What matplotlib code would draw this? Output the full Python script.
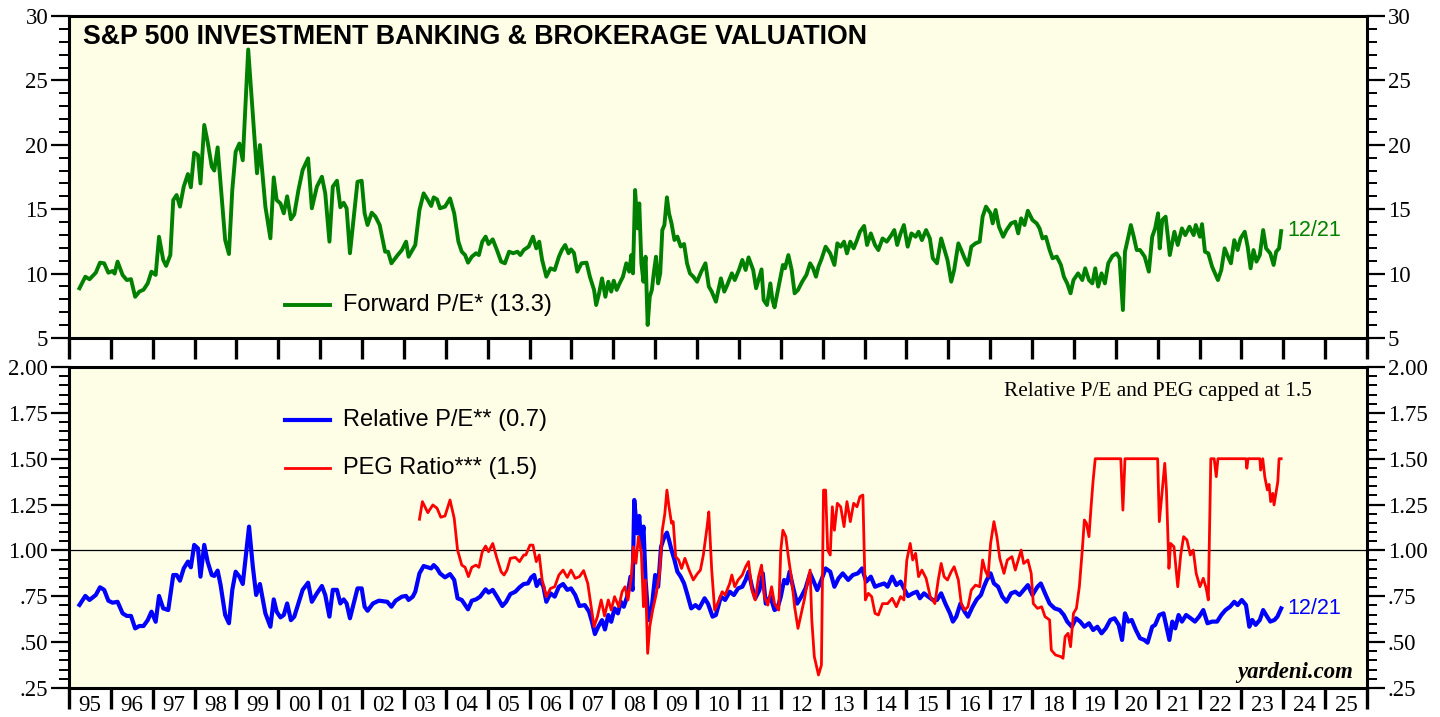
import matplotlib
matplotlib.use("Agg")
import matplotlib.pyplot as plt
from matplotlib.ticker import MultipleLocator, FixedLocator

# ---------------- data ----------------
pe_dates = [1995.25, 1995.39, 1995.49, 1995.64, 1995.74, 1995.84, 1995.94, 1996.04, 1996.09, 1996.16,
            1996.28, 1996.38, 1996.48, 1996.58, 1996.68, 1996.78, 1996.88, 1996.97, 1997.07, 1997.15,
            1997.25, 1997.32, 1997.42, 1997.49, 1997.57, 1997.65, 1997.74, 1997.84, 1997.91, 1997.99,
            1998.08, 1998.14, 1998.23, 1998.31, 1998.41, 1998.47, 1998.55, 1998.62, 1998.73, 1998.82,
            1998.90, 1998.98, 1999.07, 1999.15, 1999.28, 1999.49, 1999.56, 1999.69, 1999.81, 1999.89,
            1999.96, 2000.05, 2000.13, 2000.21, 2000.30, 2000.38, 2000.48, 2000.58, 2000.71, 2000.80,
            2000.92, 2001.04, 2001.12, 2001.22, 2001.30, 2001.40, 2001.48, 2001.56, 2001.63, 2001.71,
            2001.81, 2001.89, 2001.99, 2002.06, 2002.13, 2002.23, 2002.32, 2002.42, 2002.55, 2002.62,
            2002.70, 2002.85, 2002.95, 2003.05, 2003.11, 2003.21, 2003.27, 2003.37, 2003.47, 2003.57,
            2003.65, 2003.71, 2003.79, 2003.86, 2003.98, 2004.10, 2004.20, 2004.30, 2004.38, 2004.46,
            2004.53, 2004.62, 2004.72, 2004.79, 2004.87, 2004.95, 2005.02, 2005.12, 2005.22, 2005.32,
            2005.41, 2005.51, 2005.61, 2005.71, 2005.78, 2005.86, 2005.98, 2006.08, 2006.16, 2006.23,
            2006.30, 2006.40, 2006.50, 2006.60, 2006.70, 2006.77, 2006.85, 2006.93, 2006.99, 2007.06,
            2007.14, 2007.24, 2007.36, 2007.44, 2007.54, 2007.59, 2007.66, 2007.73, 2007.81, 2007.88,
            2007.95, 2008.01, 2008.08, 2008.15, 2008.23, 2008.31, 2008.38, 2008.43, 2008.47, 2008.52,
            2008.58, 2008.62, 2008.67, 2008.72, 2008.77, 2008.82, 2008.87, 2008.92, 2008.97, 2009.02,
            2009.07, 2009.12, 2009.17, 2009.22, 2009.28, 2009.33, 2009.39, 2009.46, 2009.53, 2009.61,
            2009.69, 2009.76, 2009.83, 2009.91, 2010.00, 2010.10, 2010.20, 2010.28, 2010.35, 2010.45,
            2010.57, 2010.65, 2010.72, 2010.83, 2010.90, 2011.00, 2011.08, 2011.16, 2011.23, 2011.34,
            2011.41, 2011.49, 2011.54, 2011.59, 2011.67, 2011.75, 2011.80, 2011.85, 2011.90, 2011.98,
            2012.05, 2012.10, 2012.18, 2012.26, 2012.33, 2012.41, 2012.51, 2012.61, 2012.70, 2012.77,
            2012.84, 2012.90, 2012.97, 2013.07, 2013.18, 2013.28, 2013.35, 2013.43, 2013.51, 2013.58,
            2013.66, 2013.74, 2013.82, 2013.89, 2013.99, 2014.06, 2014.15, 2014.25, 2014.33, 2014.43,
            2014.53, 2014.64, 2014.71, 2014.78, 2014.86, 2014.94, 2015.03, 2015.12, 2015.22, 2015.29,
            2015.37, 2015.47, 2015.56, 2015.63, 2015.73, 2015.83, 2015.90, 2015.98, 2016.07, 2016.14,
            2016.24, 2016.31, 2016.39, 2016.47, 2016.55, 2016.65, 2016.75, 2016.82, 2016.90, 2017.01,
            2017.06, 2017.13, 2017.21, 2017.31, 2017.39, 2017.50, 2017.60, 2017.67, 2017.74, 2017.82,
            2017.90, 2018.01, 2018.11, 2018.18, 2018.25, 2018.33, 2018.42, 2018.49, 2018.59, 2018.69,
            2018.76, 2018.84, 2018.92, 2018.99, 2019.10, 2019.20, 2019.27, 2019.36, 2019.44, 2019.51,
            2019.58, 2019.66, 2019.74, 2019.82, 2019.92, 2020.02, 2020.09, 2020.17, 2020.22, 2020.30,
            2020.36, 2020.43, 2020.50, 2020.58, 2020.69, 2020.79, 2020.87, 2020.94, 2021.01, 2021.05,
            2021.11, 2021.19, 2021.24, 2021.29, 2021.40, 2021.48, 2021.58, 2021.66, 2021.76, 2021.86,
            2021.91, 2022.01, 2022.06, 2022.13, 2022.21, 2022.30, 2022.37, 2022.44, 2022.52, 2022.60,
            2022.68, 2022.75, 2022.83, 2022.91, 2022.98, 2023.08, 2023.15, 2023.22, 2023.29, 2023.36,
            2023.44, 2023.52, 2023.59, 2023.69, 2023.77, 2023.83, 2023.90, 2023.95]
pe_values = [8.86, 9.76, 9.56, 10.07, 10.85, 10.8, 10.07, 10.2, 10.0, 10.93,
             9.89, 9.5, 9.57, 8.2, 8.6, 8.75, 9.24, 10.15, 9.9, 12.86,
             11.06, 10.6, 11.44, 15.71, 16.1, 15.2, 16.75, 17.73, 16.7, 19.39,
             19.2, 17.0, 21.54, 20.25, 18.3, 18.0, 19.8, 17.0, 12.6, 11.52,
             16.5, 19.46, 20.1, 18.8, 27.4, 17.79, 19.98, 15.2, 12.74, 17.47,
             15.71, 15.45, 14.68, 16.0, 14.22, 14.6, 16.49, 18.04, 18.95, 15.07,
             16.75, 17.52, 16.23, 12.48, 16.75, 17.21, 15.15, 15.5, 15.07, 11.58,
             14.68, 17.13, 17.21, 14.68, 13.77, 14.73, 14.42, 13.77, 11.7, 11.7,
             10.8, 11.44, 11.83, 12.48, 11.31, 11.88, 12.22, 14.94, 16.23, 15.71,
             15.25, 15.92, 15.76, 15.07, 15.2, 15.84, 14.68, 12.48, 11.7, 11.44,
             10.85, 11.31, 11.58, 11.44, 12.48, 12.87, 12.29, 12.66, 11.83, 10.93,
             10.8, 11.7, 11.58, 11.7, 11.44, 11.83, 12.1, 12.87, 11.96, 12.48,
             11.06, 9.76, 10.41, 10.28, 11.31, 11.83, 12.22, 11.58, 11.88, 11.6,
             10.15, 10.8, 10.85, 9.76, 8.73, 7.56, 8.47, 9.63, 8.2, 9.37,
             8.6, 9.45, 8.73, 9.24, 9.76, 10.8, 10.15, 11.44, 10.02, 16.49,
             13.51, 15.45, 10.8, 9.37, 11.31, 6.01, 8.2, 8.73, 10.15, 11.31,
             9.24, 10.02, 13.38, 13.77, 15.92, 14.68, 13.9, 12.61, 12.87, 12.1,
             12.3, 10.8, 10.02, 9.76, 9.37, 10.15, 10.8, 9.0, 8.6, 7.82,
             9.63, 8.6, 9.11, 10.02, 9.5, 10.28, 11.06, 10.28, 11.26, 10.28,
             8.86, 9.76, 10.33, 7.95, 7.56, 9.24, 7.95, 7.38, 8.2, 9.5,
             10.67, 10.41, 11.44, 10.28, 8.47, 8.73, 9.37, 9.89, 10.8, 10.41,
             9.76, 10.54, 11.11, 12.09, 11.57, 10.67, 12.35, 12.09, 12.48, 11.57,
             12.48, 11.96, 12.6, 13.25, 13.7, 12.22, 13.12, 12.22, 11.83, 12.73,
             12.48, 12.99, 13.38, 12.22, 13.12, 13.77, 12.09, 13.12, 12.86, 13.25,
             12.6, 13.38, 12.73, 11.19, 10.8, 12.73, 11.96, 11.06, 9.37, 10.28,
             12.35, 11.83, 11.19, 10.67, 12.09, 12.35, 12.48, 14.42, 15.2, 14.68,
             13.9, 14.94, 13.64, 12.86, 13.38, 13.9, 14.03, 13.12, 14.29, 13.77,
             14.88, 14.16, 13.9, 13.51, 12.73, 12.86, 11.83, 11.19, 11.32, 10.67,
             9.76, 9.24, 8.47, 9.5, 10.02, 9.5, 10.41, 9.5, 9.24, 10.41,
             8.99, 10.02, 9.24, 10.8, 11.37, 11.57, 11.19, 7.17, 11.7, 12.86,
             13.77, 12.86, 11.83, 11.83, 11.32, 10.15, 12.86, 13.51, 14.68, 11.96,
             14.16, 14.42, 12.99, 11.44, 13.25, 12.22, 13.51, 12.99, 13.64, 12.99,
             13.77, 12.86, 13.84, 11.7, 11.57, 10.54, 10.02, 9.5, 10.28, 11.96,
             11.32, 10.8, 12.6, 11.83, 12.73, 13.25, 12.09, 10.41, 11.83, 10.93,
             11.44, 13.38, 11.96, 11.57, 10.67, 11.7, 11.96, 13.3]

rel_dates = [1995.25, 1995.39, 1995.49, 1995.64, 1995.74, 1995.84, 1995.94, 1996.04, 1996.16, 1996.28,
             1996.38, 1996.48, 1996.58, 1996.68, 1996.78, 1996.88, 1996.97, 1997.07, 1997.15, 1997.25,
             1997.37, 1997.49, 1997.57, 1997.65, 1997.74, 1997.84, 1997.91, 1997.99, 1998.08, 1998.14,
             1998.23, 1998.31, 1998.41, 1998.47, 1998.55, 1998.62, 1998.73, 1998.82, 1998.90, 1998.98,
             1999.07, 1999.15, 1999.30, 1999.39, 1999.47, 1999.56, 1999.69, 1999.81, 1999.89, 1999.96,
             2000.05, 2000.13, 2000.21, 2000.30, 2000.38, 2000.48, 2000.58, 2000.71, 2000.80, 2000.92,
             2001.04, 2001.12, 2001.22, 2001.30, 2001.40, 2001.48, 2001.56, 2001.63, 2001.71, 2001.81,
             2001.89, 2001.99, 2002.06, 2002.13, 2002.26, 2002.40, 2002.60, 2002.70, 2002.80, 2002.95,
             2003.05, 2003.11, 2003.21, 2003.27, 2003.37, 2003.47, 2003.57, 2003.65, 2003.71, 2003.79,
             2003.86, 2003.98, 2004.10, 2004.20, 2004.28, 2004.38, 2004.53, 2004.62, 2004.72, 2004.82,
             2004.95, 2005.02, 2005.12, 2005.22, 2005.35, 2005.44, 2005.54, 2005.66, 2005.76, 2005.86,
             2005.96, 2006.04, 2006.11, 2006.17, 2006.25, 2006.33, 2006.40, 2006.50, 2006.60, 2006.70,
             2006.80, 2006.90, 2006.99, 2007.09, 2007.19, 2007.32, 2007.42, 2007.49, 2007.56, 2007.64,
             2007.73, 2007.80, 2007.88, 2007.95, 2008.03, 2008.11, 2008.18, 2008.25, 2008.33, 2008.41,
             2008.46, 2008.50, 2008.57, 2008.62, 2008.67, 2008.72, 2008.77, 2008.84, 2008.92, 2009.00,
             2009.07, 2009.14, 2009.22, 2009.28, 2009.33, 2009.39, 2009.46, 2009.53, 2009.61, 2009.69,
             2009.76, 2009.86, 2009.96, 2010.05, 2010.18, 2010.26, 2010.37, 2010.45, 2010.57, 2010.67,
             2010.78, 2010.88, 2010.98, 2011.08, 2011.16, 2011.23, 2011.31, 2011.39, 2011.49, 2011.57,
             2011.64, 2011.75, 2011.85, 2011.92, 2012.00, 2012.08, 2012.15, 2012.21, 2012.29, 2012.39,
             2012.49, 2012.59, 2012.70, 2012.77, 2012.87, 2012.97, 2013.07, 2013.18, 2013.28, 2013.38,
             2013.48, 2013.61, 2013.72, 2013.84, 2013.94, 2014.04, 2014.15, 2014.25, 2014.35, 2014.47,
             2014.55, 2014.66, 2014.76, 2014.86, 2014.94, 2015.04, 2015.15, 2015.25, 2015.32, 2015.42,
             2015.52, 2015.63, 2015.73, 2015.83, 2015.93, 2016.04, 2016.11, 2016.19, 2016.29, 2016.39,
             2016.47, 2016.58, 2016.68, 2016.78, 2016.85, 2016.92, 2017.01, 2017.09, 2017.19, 2017.29,
             2017.39, 2017.50, 2017.60, 2017.70, 2017.80, 2017.90, 2018.01, 2018.13, 2018.21, 2018.31,
             2018.42, 2018.54, 2018.66, 2018.76, 2018.84, 2018.95, 2019.05, 2019.15, 2019.25, 2019.36,
             2019.46, 2019.56, 2019.66, 2019.76, 2019.87, 2019.97, 2020.07, 2020.15, 2020.22, 2020.30,
             2020.38, 2020.48, 2020.58, 2020.68, 2020.76, 2020.87, 2020.94, 2021.04, 2021.14, 2021.21,
             2021.28, 2021.35, 2021.42, 2021.50, 2021.58, 2021.68, 2021.79, 2021.89, 2021.99, 2022.09,
             2022.19, 2022.30, 2022.42, 2022.52, 2022.62, 2022.73, 2022.83, 2022.91, 2023.01, 2023.11,
             2023.19, 2023.26, 2023.34, 2023.44, 2023.52, 2023.59, 2023.69, 2023.79, 2023.86, 2023.95]
rel_values = [0.703, 0.752, 0.73, 0.757, 0.799, 0.785, 0.726, 0.715, 0.72, 0.657,
              0.643, 0.643, 0.575, 0.588, 0.588, 0.62, 0.666, 0.611, 0.752, 0.684,
              0.675, 0.866, 0.866, 0.835, 0.902, 0.939, 0.908, 1.03, 1.011, 0.857,
              1.03, 0.939, 0.866, 0.861, 0.89, 0.812, 0.648, 0.603, 0.785, 0.884,
              0.857, 0.817, 1.13, 0.912, 0.757, 0.817, 0.657, 0.584, 0.733, 0.666,
              0.635, 0.648, 0.711, 0.62, 0.639, 0.711, 0.785, 0.824, 0.72, 0.766,
              0.806, 0.757, 0.639, 0.785, 0.785, 0.711, 0.733, 0.711, 0.63, 0.72,
              0.793, 0.793, 0.693, 0.671, 0.711, 0.726, 0.72, 0.693, 0.726, 0.748,
              0.752, 0.73, 0.748, 0.775, 0.875, 0.915, 0.908, 0.902, 0.92, 0.902,
              0.875, 0.853, 0.871, 0.839, 0.739, 0.73, 0.679, 0.726, 0.733, 0.748,
              0.788, 0.77, 0.785, 0.748, 0.697, 0.72, 0.762, 0.775, 0.799, 0.817,
              0.82, 0.853, 0.866, 0.806, 0.839, 0.802, 0.72, 0.766, 0.748, 0.802,
              0.817, 0.785, 0.793, 0.757, 0.697, 0.702, 0.666, 0.611, 0.544, 0.584,
              0.62, 0.569, 0.648, 0.611, 0.684, 0.657, 0.72, 0.693, 0.748, 0.857,
              0.785, 1.275, 1.093, 1.188, 1.02, 1.13, 0.839, 0.62, 0.693, 0.866,
              0.802, 1.02, 1.075, 1.097, 1.057, 1.002, 0.948, 0.884, 0.857, 0.82,
              0.766, 0.684, 0.702, 0.684, 0.739, 0.71, 0.639, 0.648, 0.748, 0.73,
              0.775, 0.757, 0.793, 0.802, 0.839, 0.884, 0.802, 0.739, 0.784, 0.875,
              0.71, 0.748, 0.675, 0.684, 0.748, 0.839, 0.82, 0.884, 0.802, 0.71,
              0.748, 0.793, 0.875, 0.839, 0.784, 0.839, 0.902, 0.884, 0.802, 0.848,
              0.875, 0.839, 0.866, 0.875, 0.902, 0.83, 0.857, 0.802, 0.811, 0.82,
              0.802, 0.857, 0.811, 0.83, 0.793, 0.751, 0.766, 0.775, 0.739, 0.766,
              0.748, 0.73, 0.73, 0.766, 0.71, 0.657, 0.612, 0.639, 0.71, 0.666,
              0.639, 0.693, 0.733, 0.757, 0.802, 0.839, 0.875, 0.82, 0.802, 0.748,
              0.72, 0.766, 0.775, 0.757, 0.784, 0.811, 0.757, 0.802, 0.82, 0.766,
              0.71, 0.684, 0.675, 0.648, 0.612, 0.584, 0.63, 0.612, 0.584, 0.603,
              0.566, 0.584, 0.548, 0.575, 0.621, 0.63, 0.594, 0.512, 0.657, 0.612,
              0.621, 0.566, 0.521, 0.512, 0.497, 0.584, 0.594, 0.648, 0.657, 0.584,
              0.512, 0.612, 0.575, 0.648, 0.612, 0.648, 0.63, 0.612, 0.639, 0.675,
              0.603, 0.612, 0.612, 0.648, 0.675, 0.693, 0.72, 0.702, 0.73, 0.702,
              0.584, 0.621, 0.594, 0.621, 0.675, 0.648, 0.612, 0.621, 0.639, 0.684]

peg_dates = [2003.37, 2003.44, 2003.57, 2003.69, 2003.79, 2003.88, 2003.98, 2004.10, 2004.20, 2004.28,
             2004.38, 2004.46, 2004.54, 2004.62, 2004.72, 2004.79, 2004.87, 2004.95, 2005.02, 2005.12,
             2005.22, 2005.32, 2005.39, 2005.46, 2005.54, 2005.66, 2005.76, 2005.86, 2005.91, 2006.01,
             2006.08, 2006.16, 2006.23, 2006.30, 2006.40, 2006.50, 2006.60, 2006.70, 2006.80, 2006.90,
             2006.99, 2007.09, 2007.19, 2007.29, 2007.39, 2007.46, 2007.54, 2007.62, 2007.71, 2007.79,
             2007.88, 2007.95, 2008.03, 2008.13, 2008.21, 2008.28, 2008.35, 2008.43, 2008.48, 2008.54,
             2008.60, 2008.67, 2008.72, 2008.77, 2008.82, 2008.87, 2008.94, 2009.02, 2009.10, 2009.17,
             2009.23, 2009.28, 2009.33, 2009.39, 2009.43, 2009.49, 2009.56, 2009.63, 2009.71, 2009.81,
             2009.91, 2010.00, 2010.08, 2010.15, 2010.24, 2010.28, 2010.35, 2010.42, 2010.49, 2010.60,
             2010.67, 2010.78, 2010.83, 2010.90, 2010.98, 2011.08, 2011.16, 2011.23, 2011.31, 2011.39,
             2011.47, 2011.54, 2011.61, 2011.69, 2011.78, 2011.85, 2011.95, 2012.00, 2012.05, 2012.12,
             2012.18, 2012.26, 2012.33, 2012.41, 2012.49, 2012.56, 2012.63, 2012.70, 2012.74, 2012.80,
             2012.90, 2012.97, 2013.02, 2013.07, 2013.12, 2013.18, 2013.23, 2013.28, 2013.35, 2013.43,
             2013.51, 2013.58, 2013.66, 2013.74, 2013.82, 2013.89, 2013.96, 2014.02, 2014.09, 2014.17,
             2014.25, 2014.33, 2014.43, 2014.55, 2014.66, 2014.76, 2014.86, 2014.94, 2015.01, 2015.09,
             2015.15, 2015.22, 2015.29, 2015.37, 2015.47, 2015.57, 2015.68, 2015.76, 2015.83, 2015.90,
             2015.98, 2016.07, 2016.14, 2016.24, 2016.31, 2016.39, 2016.47, 2016.55, 2016.65, 2016.75,
             2016.82, 2016.88, 2016.95, 2017.01, 2017.09, 2017.16, 2017.23, 2017.33, 2017.41, 2017.52,
             2017.60, 2017.67, 2017.74, 2017.80, 2017.90, 2017.98, 2018.03, 2018.13, 2018.23, 2018.31,
             2018.42, 2018.46, 2018.56, 2018.69, 2018.74, 2018.79, 2018.86, 2018.92, 2018.99, 2019.06,
             2019.13, 2019.20, 2019.25, 2019.30, 2019.36, 2019.41, 2019.46, 2019.51, 2020.12, 2020.17,
             2020.22, 2021.00, 2021.04, 2021.11, 2021.17, 2021.21, 2021.27, 2021.31, 2021.39, 2021.48,
             2021.55, 2021.62, 2021.70, 2021.78, 2021.85, 2021.92, 2022.01, 2022.09, 2022.16, 2022.21,
             2022.27, 2022.35, 2022.40, 2022.44, 2023.11, 2023.13, 2023.16, 2023.44, 2023.46, 2023.51,
             2023.56, 2023.62, 2023.66, 2023.70, 2023.75, 2023.78, 2023.83, 2023.87, 2023.90, 2023.95]
peg_values = [1.17, 1.266, 1.206, 1.248, 1.23, 1.181, 1.188, 1.275, 1.175, 1.002,
              0.92, 0.908, 0.857, 0.908, 0.92, 0.908, 0.993, 1.024, 0.993, 1.038,
              0.957, 0.884, 0.866, 0.893, 0.957, 0.962, 0.939, 0.975, 0.975, 1.029,
              1.029, 0.939, 0.975, 0.839, 0.748, 0.793, 0.802, 0.866, 0.893, 0.853,
              0.893, 0.848, 0.857, 0.89, 0.82, 0.711, 0.584, 0.639, 0.73, 0.643,
              0.73, 0.675, 0.748, 0.693, 0.775, 0.802, 0.73, 0.857, 1.02, 0.93,
              1.075, 0.984, 0.693, 0.839, 0.439, 0.584, 0.675, 0.757, 0.866, 1.111,
              1.2, 1.329, 1.238, 1.148, 1.157, 0.966, 0.948, 0.902, 0.957, 0.893,
              0.839, 0.871, 0.893, 0.975, 1.13, 1.21, 0.893, 0.675, 0.71, 0.775,
              0.757, 0.82, 0.866, 0.802, 0.839, 0.866, 0.911, 0.939, 0.784, 0.73,
              0.857, 0.92, 0.748, 0.702, 0.802, 0.71, 0.675, 1.002, 1.11, 1.075,
              0.966, 0.839, 0.693, 0.575, 0.657, 0.73, 0.82, 0.893, 0.621, 0.421,
              0.321, 0.375, 1.329, 1.329, 1.002, 0.975, 1.238, 1.11, 1.257, 1.238,
              1.13, 1.266, 1.157, 1.257, 1.238, 1.293, 1.302, 0.73, 0.766, 0.748,
              0.657, 0.648, 0.71, 0.71, 0.739, 0.693, 0.748, 0.73, 0.948, 1.038,
              0.948, 0.984, 0.857, 0.893, 0.848, 0.748, 0.71, 0.839, 0.929, 0.857,
              0.839, 0.884, 0.911, 0.839, 0.71, 0.675, 0.693, 0.784, 0.811, 0.802,
              0.948, 0.893, 0.857, 1.038, 1.157, 1.075, 0.957, 0.875, 0.948, 0.966,
              0.893, 0.948, 1.002, 0.929, 0.948, 0.875, 0.71, 0.684, 0.693, 0.639,
              0.621, 0.457, 0.43, 0.421, 0.412, 0.53, 0.548, 0.475, 0.657, 0.684,
              0.802, 1.002, 1.166, 1.148, 1.075, 1.238, 1.384, 1.5, 1.5, 1.22,
              1.5, 1.5, 1.157, 1.329, 1.475, 1.329, 0.902, 1.038, 1.02, 0.802,
              0.975, 1.075, 1.057, 0.975, 1.002, 0.875, 0.802, 0.848, 0.793, 0.73,
              1.5, 1.5, 1.402, 1.5, 1.5, 1.448, 1.5, 1.5, 1.438, 1.5,
              1.4, 1.33, 1.36, 1.266, 1.311, 1.248, 1.32, 1.375, 1.5, 1.5]

year_ticks = list(range(1995, 2027))
year_labels = [f"{y % 100:02d}" for y in range(1995, 2026)]
pe_ticks = [5, 10, 15, 20, 25, 30]
pe_ticklabels = ["5", "10", "15", "20", "25", "30"]
ratio_ticks = [0.25, 0.50, 0.75, 1.00, 1.25, 1.50, 1.75, 2.00]
ratio_ticklabels = [".25", ".50", ".75", "1.00", "1.25", "1.50", "1.75", "2.00"]

# ---------------- style ----------------
W, H = 1440, 717
fig = plt.figure(figsize=(W / 100, H / 100), dpi=100)
fig.patch.set_facecolor("white")
BG = "#fefee6"
SERIF = ["Liberation Serif", "DejaVu Serif"]
SANS = ["Liberation Sans", "DejaVu Sans"]
GREEN, BLUE, RED = "#008000", "#0000ff", "#ff0000"

L, R = 69, 1367
ax1 = fig.add_axes([L / W, 1 - 338 / H, (R - L) / W, (338 - 16) / H])
ax2 = fig.add_axes([L / W, 1 - 688 / H, (R - L) / W, (688 - 367) / H])


def style(ax, yticks, ylabels, yminor):
    ax.set_facecolor(BG)
    for s in ax.spines.values():
        s.set_linewidth(2.2)
        s.set_color("black")
    ax.set_xlim(1995, 2026)
    ax.set_xticks(year_ticks)
    ax.set_yticks(yticks)
    ax.set_yticklabels(ylabels)
    ax.yaxis.set_minor_locator(MultipleLocator(yminor))
    ax.tick_params(axis="y", which="major", direction="out", length=13, width=1.6,
                   left=True, right=True, labelleft=True, labelright=True,
                   labelsize=16.5, pad=2)
    ax.tick_params(axis="y", which="minor", direction="out", length=7, width=1.4,
                   left=True, right=True)
    for lab in ax.get_yticklabels():
        lab.set_fontfamily(SERIF)
    ax.tick_params(axis="x", which="major", direction="out", length=15, width=2.4,
                   top=False, bottom=True)


style(ax1, pe_ticks, pe_ticklabels, 1)
ax1.set_ylim(5, 30)
ax1.set_xticklabels([])

style(ax2, ratio_ticks, ratio_ticklabels, 0.05)
ax2.set_ylim(0.25, 2.0)
ax2.set_xticklabels([])
ax2.xaxis.set_minor_locator(FixedLocator([y + 0.5 for y in range(1995, 2026)]))
ax2.set_xticklabels(year_labels, minor=True)
ax2.tick_params(axis="x", which="minor", length=0, labelsize=16.5, pad=5)
for lab in ax2.get_xticklabels(minor=True):
    lab.set_fontfamily(SERIF)

# ---------------- lines ----------------
ax1.plot(pe_dates, pe_values, color=GREEN, lw=2.8, solid_joinstyle="round")
ax2.axhline(1.0, color="black", lw=0.9, zorder=1)
ax2.plot(peg_dates, peg_values, color=RED, lw=2.0, zorder=3)
ax2.plot(rel_dates, rel_values, color=BLUE, lw=3.0, zorder=2, solid_joinstyle="round")

# ---------------- texts ----------------
ax1.text(0.0108, 0.935, "S&P 500 INVESTMENT BANKING & BROKERAGE VALUATION",
         transform=ax1.transAxes, fontsize=19.3, fontweight="bold", family=SANS,
         va="center", ha="left")

# legend top
ax1.plot([0.1664, 0.2011], [0.1025, 0.1025], transform=ax1.transAxes, color=GREEN, lw=2.8)
ax1.text(0.211, 0.1025, "Forward P/E* (13.3)", transform=ax1.transAxes,
         fontsize=17, family=SANS, va="center", ha="left")
ax1.text(0.9384, 0.335, "12/21", transform=ax1.transAxes, fontsize=15.5,
         family=SANS, color=GREEN, va="center", ha="left")

# legend bottom
ax2.plot([0.1664, 0.2011], [0.835, 0.835], transform=ax2.transAxes, color=BLUE, lw=3.0)
ax2.text(0.211, 0.835, "Relative P/E** (0.7)", transform=ax2.transAxes,
         fontsize=17, family=SANS, va="center", ha="left")
ax2.plot([0.1664, 0.2011], [0.685, 0.685], transform=ax2.transAxes, color=RED, lw=2.0)
ax2.text(0.211, 0.685, "PEG Ratio*** (1.5)", transform=ax2.transAxes,
         fontsize=17, family=SANS, va="center", ha="left")
ax2.text(0.9577, 0.925, "Relative P/E and PEG capped at 1.5", transform=ax2.transAxes,
         fontsize=15.3, family=SERIF, va="center", ha="right")
ax2.text(0.9384, 0.249, "12/21", transform=ax2.transAxes, fontsize=15.5,
         family=SANS, color=BLUE, va="center", ha="left")
ax2.text(0.9892, 0.047, "yardeni.com", transform=ax2.transAxes, fontsize=16.4,
         family=SERIF, fontweight="bold", fontstyle="italic", va="center", ha="right")

fig.savefig("out.png", dpi=100, facecolor="white")
